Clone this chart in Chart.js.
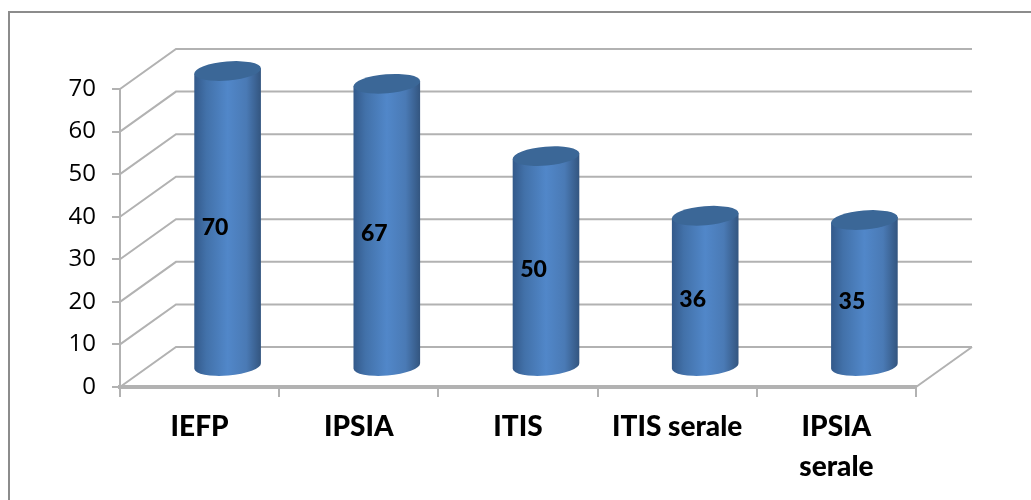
<!DOCTYPE html>
<html>
<head>
<meta charset="utf-8">
<style>
  html, body { margin: 0; padding: 0; background: #fff; overflow: hidden; }
  #wrap { position: relative; width: 1031px; height: 500px; }
  canvas { position: absolute; left: 0; top: 0; }
</style>
<script src="https://cdn.jsdelivr.net/npm/chart.js@4"></script>
</head>
<body>
<div id="wrap"><canvas id="chart" width="1031" height="500"></canvas></div>
<script>
const categories = ["IEFP", "IPSIA", "ITIS", "ITIS serale", "IPSIA serale"];
const tickLabels = ["IEFP", "IPSIA", "ITIS", "ITIS serale", ["IPSIA", "serale"]];
const values = [70, 67, 50, 36, 35];
const yTicks = [0, 10, 20, 30, 40, 50, 60, 70];

// fake 3d depth of the walls
const depthX = 56;
const depthY = 40;
const gridColor = "#b2b2b2";
const textFont = "Lato, 'Open Sans', sans-serif";

function wall(chart) {
  const { ctx, scales } = chart;
  const left = scales.x.left, right = scales.x.right;
  ctx.save();
  ctx.strokeStyle = gridColor;
  ctx.lineWidth = 2;
  yTicks.forEach(v => {
    const y = scales.y.getPixelForValue(v);
    ctx.beginPath();
    ctx.moveTo(left, y);
    ctx.lineTo(left + depthX, y - depthY);
    ctx.lineTo(right + depthX, y - depthY);
    ctx.stroke();
  });
  // right edge of the floor
  const y0 = scales.y.getPixelForValue(0);
  ctx.beginPath();
  ctx.moveTo(right, y0);
  ctx.lineTo(right + depthX, y0 - depthY);
  ctx.stroke();
  ctx.restore();
}

function cylinder(ctx, cx, topY, baseY, rx) {
  const ry = 9.5;
  const rot = -0.085;
  const dx = rx * Math.cos(rot), dy = rx * Math.sin(rot);

  const grad = ctx.createLinearGradient(cx - rx, 0, cx + rx, 0);
  grad.addColorStop(0, "#33598a");
  grad.addColorStop(0.18, "#4271a9");
  grad.addColorStop(0.5, "#5187c9");
  grad.addColorStop(0.78, "#4a7ab5");
  grad.addColorStop(1, "#33557f");

  ctx.beginPath();
  ctx.moveTo(cx - dx, topY - dy);
  ctx.lineTo(cx - dx, baseY - dy);
  ctx.ellipse(cx, baseY, rx, ry, rot, Math.PI, 0, true);
  ctx.lineTo(cx + dx, topY + dy);
  ctx.closePath();
  ctx.fillStyle = grad;
  ctx.fill();

  ctx.beginPath();
  ctx.ellipse(cx, topY, rx, ry, rot, 0, Math.PI * 2);
  ctx.fillStyle = "#3b6797";
  ctx.fill();
}

const cylinders3d = {
  id: "cylinders3d",
  beforeDatasetsDraw(chart) {
    wall(chart);
  },
  afterDatasetsDraw(chart) {
    const { ctx } = chart;
    const meta = chart.getDatasetMeta(0);
    meta.data.forEach((bar, i) => {
      const cx = bar.x + depthX / 2;
      const topY = bar.y - depthY / 2 + 2;
      const baseY = bar.base - depthY / 2;
      cylinder(ctx, cx, topY, baseY, bar.width / 2);

      // value label sits a bit left of the middle of the bar
      ctx.save();
      ctx.fillStyle = "#000";
      ctx.font = "900 23px " + textFont;
      ctx.textAlign = "center";
      ctx.textBaseline = "middle";
      ctx.fillText(values[i], bar.x + 15.5, (bar.y + bar.base) / 2 - 10);
      ctx.restore();
    });
  }
};

new Chart(document.getElementById("chart"), {
  type: "bar",
  plugins: [cylinders3d],
  data: {
    labels: categories,
    datasets: [{
      data: values,
      backgroundColor: "rgba(0,0,0,0)",
      barPercentage: 0.42,
      categoryPercentage: 1
    }]
  },
  options: {
    responsive: false,
    animation: false,
    layout: { padding: { left: 66, right: 115, top: 89, bottom: 0 } },
    plugins: { legend: { display: false }, tooltip: { enabled: false } },
    scales: {
      x: {
        offset: true,
        afterFit(axis) { axis.height = 113; },
        grid: { drawOnChartArea: false, color: gridColor, lineWidth: 2, tickLength: 10, offset: true },
        border: { color: gridColor, width: 4 },
        ticks: {
          color: "#000",
          maxRotation: 0,
          autoSkip: false,
          padding: 10,
          font: { family: textFont, size: 28, weight: "900", lineHeight: 1.43 },
          callback: (v, i) => tickLabels[i]
        }
      },
      y: {
        min: 0,
        max: 70,
        afterFit(axis) { axis.width = 54; },
        grid: { drawOnChartArea: false, color: gridColor, lineWidth: 2, tickLength: 8 },
        border: { color: gridColor, width: 2 },
        ticks: {
          color: "#000",
          stepSize: 10,
          padding: 16,
          font: { family: "'Open Sans', sans-serif", size: 24 }
        }
      }
    }
  }
});

// page frame: only top and left edges show in the crop
const frameTop = document.createElement("div");
frameTop.style.cssText = "position:absolute;left:8px;top:11px;right:0;height:2px;background:#8c8c8c";
const frameLeft = document.createElement("div");
frameLeft.style.cssText = "position:absolute;left:8px;top:11px;bottom:0;width:2px;background:#8c8c8c";
document.getElementById("wrap").append(frameTop, frameLeft);
</script>
</body>
</html>
